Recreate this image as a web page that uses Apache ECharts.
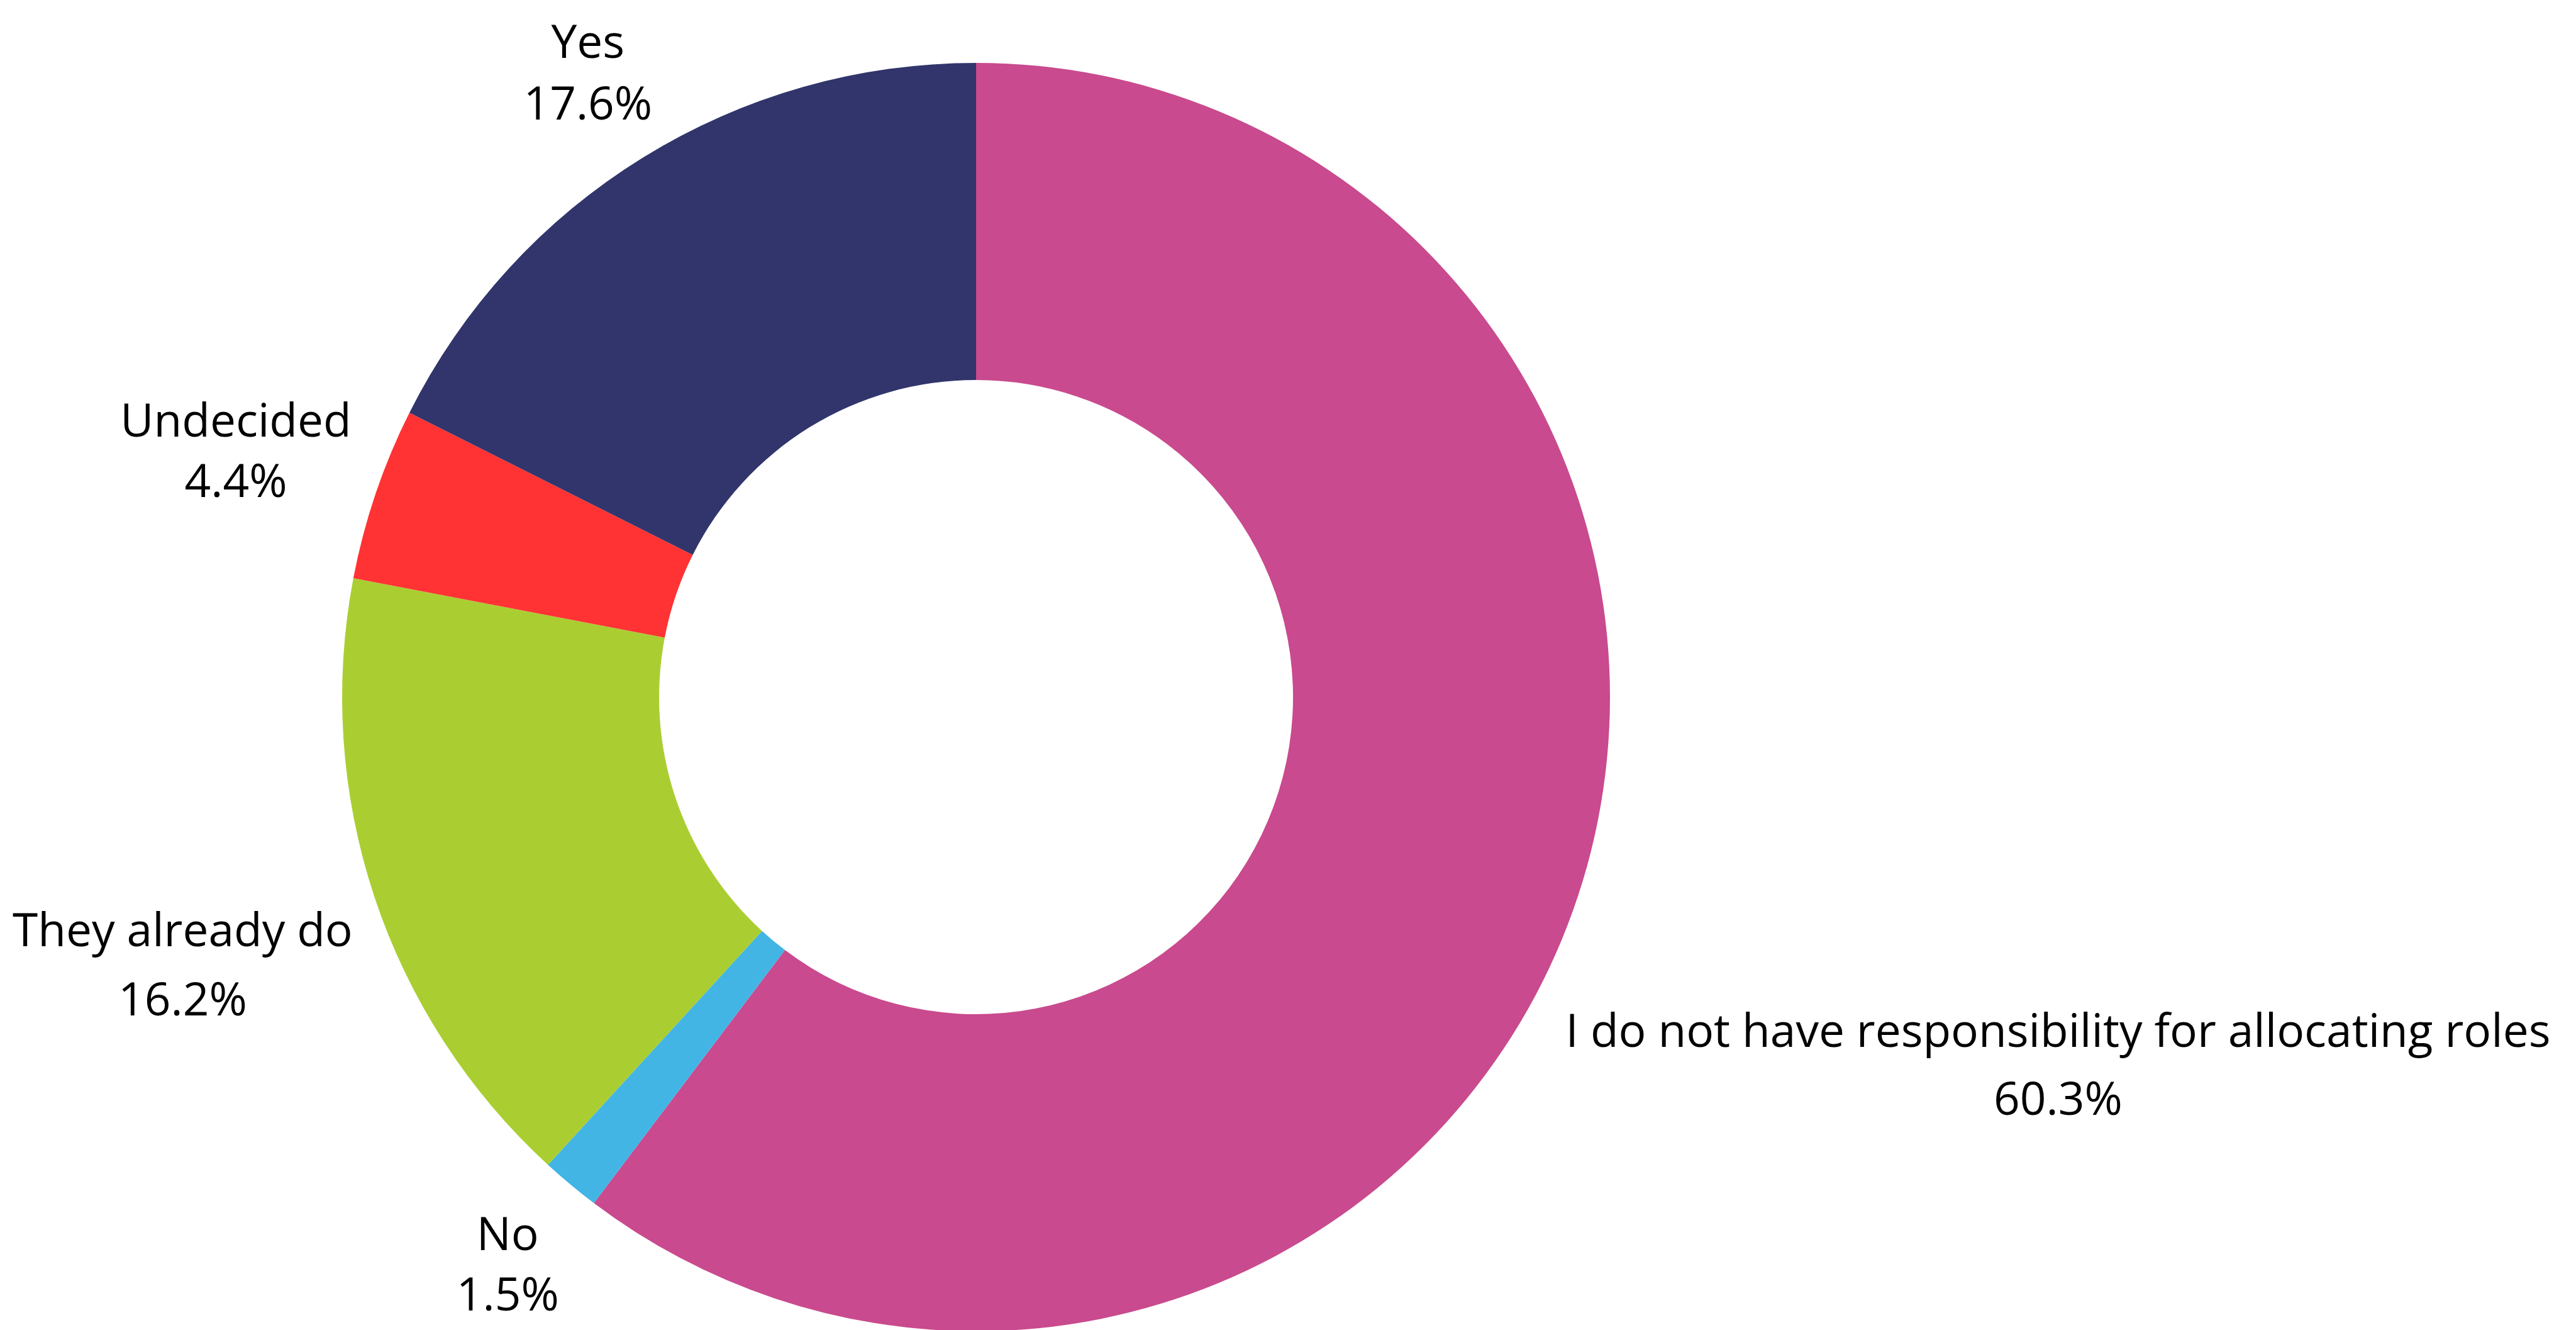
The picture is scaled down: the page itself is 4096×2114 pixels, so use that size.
<!DOCTYPE html>
<html>
<head>
<meta charset="utf-8">
<script src="https://cdn.jsdelivr.net/npm/echarts@6/dist/echarts.min.js"></script>
<style>
  html, body { margin: 0; padding: 0; background: #fff; }
  #myChart { width: 4096px; height: 2114px; }
</style>
</head>
<body>
<div id="myChart"></div>
<script>
// data, clockwise from 12 o'clock
const categories = [
  "I do not have responsibility for allocating roles",
  "No",
  "They already do",
  "Undecided",
  "Yes",
];
const percents = [60.3, 1.5, 16.2, 4.4, 17.6];

const colors = ["#C94A8E", "#42B5E5", "#AACE32", "#FF3333", "#31356B"];
const lineHeights = [108, 96, 110, 96, 98];

const cx = 1552, cy = 1108, outerR = 1008, innerR = 504;
const labelGap = 30, labelDy = 12;

// mid angle of each slice (radians, clockwise from top)
const total = percents.reduce((a, b) => a + b, 0);
const midAngles = [];
let acc = 0;
percents.forEach((v) => {
  midAngles.push(((acc + v / 2) / total) * 2 * Math.PI);
  acc += v;
});

let myChart = echarts.init(document.getElementById("myChart"));
myChart.setOption({
  animation: false,
  backgroundColor: "#fff",
  series: [
    {
      type: "pie",
      center: [cx, cy],
      radius: [innerR, outerR],
      startAngle: 90,
      clockwise: true,
      avoidLabelOverlap: false,
      label: {
        show: true,
        position: "outside",
        formatter: (p) => p.name + "\n" + p.value.toFixed(1) + "%",
        fontFamily: "Open Sans",
        fontSize: 73,
        color: "#000",
        align: "center",
      },
      labelLine: { show: false },
      // put each label just outside the ring, along the slice's mid angle
      labelLayout: (params) => {
        const i = params.dataIndex;
        const ux = Math.sin(midAngles[i]), uy = -Math.cos(midAngles[i]);
        const w = params.labelRect.width, h = params.labelRect.height;
        const d = outerR + labelGap + (Math.abs(ux) * w) / 2 + (Math.abs(uy) * h) / 2;
        return { x: cx + ux * d, y: cy + uy * d + labelDy, align: "center", verticalAlign: "middle" };
      },
      data: categories.map((name, i) => ({
        name: name,
        value: percents[i],
        itemStyle: { color: colors[i] },
        label: { lineHeight: lineHeights[i] },
      })),
    },
  ],
});
</script>
</body>
</html>
